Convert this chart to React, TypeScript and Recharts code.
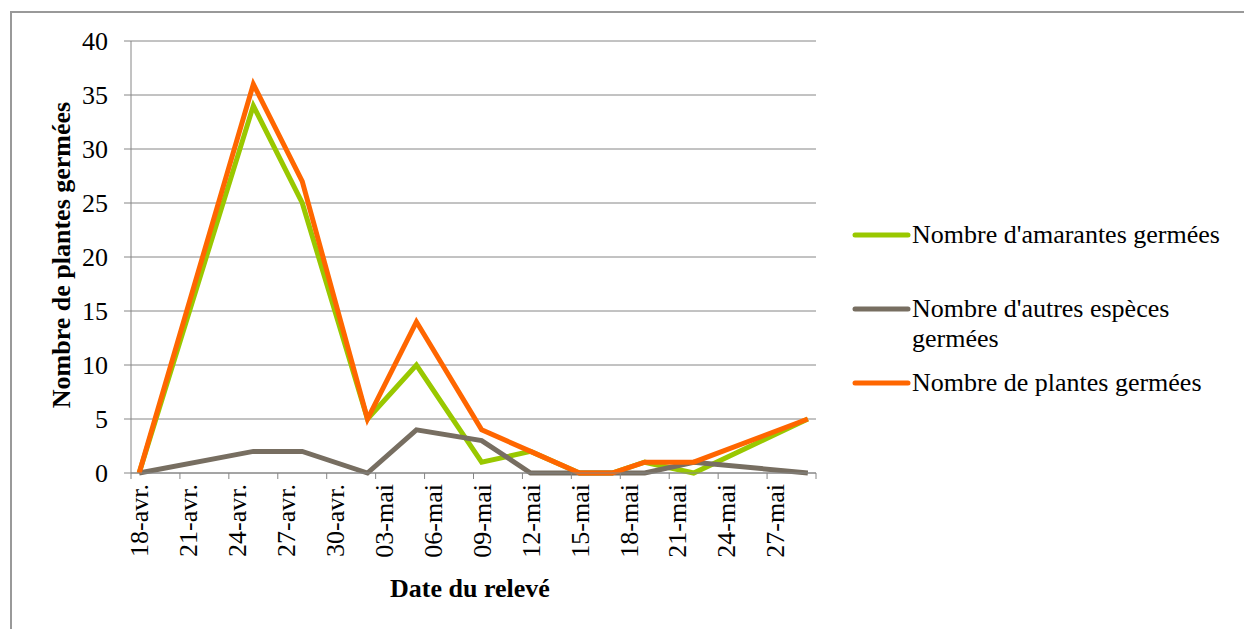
import React from 'react';
import { LineChart, Line, XAxis, YAxis, CartesianGrid, Legend } from 'recharts';

// Relevés (jours comptés depuis le 18 avril)
const releveDates = ['18-avr.', '25-avr.', '28-avr.', '02-mai', '05-mai', '09-mai', '12-mai', '15-mai', '17-mai', '19-mai', '22-mai', '29-mai'];
const releveDays = [0, 7, 10, 14, 17, 21, 24, 27, 29, 31, 34, 41];
const amarantes = [0, 34, 25, 5, 10, 1, 2, 0, 0, 1, 0, 5];
const autres = [0, 2, 2, 0, 4, 3, 0, 0, 0, 0, 1, 0];
const plantes = [0, 36, 27, 5, 14, 4, 2, 0, 0, 1, 1, 5];

// Axe des dates : une étiquette tous les 3 jours
const tickLabels = ['18-avr.', '21-avr.', '24-avr.', '27-avr.', '30-avr.', '03-mai', '06-mai', '09-mai', '12-mai', '15-mai', '18-mai', '21-mai', '24-mai', '27-mai'];
const tickDays = [0, 3, 6, 9, 12, 15, 18, 21, 24, 27, 30, 33, 36, 39];
const yTicks = [0, 5, 10, 15, 20, 25, 30, 35, 40];

const data = releveDays.map((day, i) => ({
    day,
    date: releveDates[i],
    amarantes: amarantes[i],
    autres: autres[i],
    plantes: plantes[i],
}));

const W = 1244;
const H = 629;
const LEGEND_W = 390;
// the vertical legend on the right takes its width out of the plot, so the right margin is reduced by it
const MARGIN = { top: 41, right: 428 - LEGEND_W, left: 71, bottom: 56 };
const Y_AXIS_W = 60;
const X_AXIS_H = 100;
const DOMAIN: [number, number] = [-0.5, 41.5];
const PLOT_W = 816 - 131;
const DAY_W = PLOT_W / (DOMAIN[1] - DOMAIN[0]);

// tick marks sit on the day boundaries, labels on the day centres
const tickLines = [...tickDays.map((d) => d - 0.5), DOMAIN[1]];

const FONT = '"Liberation Serif", "Times New Roman", serif';
const GRID = '#868686';

const SERIES = [
    { key: 'amarantes', name: "Nombre d'amarantes germées", color: '#99C800' },
    { key: 'autres', name: "Nombre d'autres espèces germées", color: '#776E61' },
    { key: 'plantes', name: 'Nombre de plantes germées', color: '#FF6600' },
];

const DateTick = (props: any) => {
    const { x, y, payload } = props;
    const idx = tickDays.indexOf(payload.value + 0.5);
    if (idx < 0) return null;
    const cx = x + DAY_W / 2;
    return (
        <text
            x={cx}
            y={y}
            dy="0.35em"
            textAnchor="end"
            transform={`rotate(-90, ${cx}, ${y})`}
            fill="#000"
            fontSize={26}
            fontFamily={FONT}
        >
            {tickLabels[idx]}
        </text>
    );
};

const YTick = (props: any) => {
    const { x, y, payload } = props;
    return (
        <text x={x} y={y} dy="0.35em" textAnchor="end" fill="#000" fontSize={26} fontFamily={FONT}>
            {payload.value}
        </text>
    );
};

const legendGaps = [44, 14, 0];

const renderLegend = () => (
    <div style={{ fontFamily: FONT, fontSize: 26, lineHeight: '30px', color: '#000' }}>
        {SERIES.map((s, i) => (
            <div key={s.key} style={{ display: 'flex', alignItems: 'flex-start', marginBottom: legendGaps[i] }}>
                <svg width={62} height={30} style={{ flex: 'none' }}>
                    <line x1={5} y1={15} x2={58} y2={15} stroke={s.color} strokeWidth={5} strokeLinecap="round" />
                </svg>
                <span style={{ width: 320 }}>{s.name}</span>
            </div>
        ))}
    </div>
);

export default function App() {
    return (
        <div style={{ position: 'absolute', left: 0, top: 0, width: W, height: H, overflow: 'hidden', background: '#fff' }}>
            <div style={{ position: 'absolute', left: 10, top: 11, width: W, height: H, border: '2px solid #999', boxSizing: 'border-box' }} />
            <div style={{ position: 'absolute', left: 0, top: 0 }}>
                <LineChart width={W} height={H} data={data} margin={MARGIN}>
                    <CartesianGrid vertical={false} stroke={GRID} strokeWidth={1} />
                    <XAxis
                        dataKey="day"
                        type="number"
                        domain={DOMAIN}
                        ticks={tickLines}
                        interval={0}
                        allowDataOverflow
                        height={X_AXIS_H}
                        stroke={GRID}
                        tickSize={6}
                        tickMargin={5}
                        tick={<DateTick />}
                    />
                    <YAxis
                        domain={[0, 40]}
                        ticks={yTicks}
                        interval={0}
                        width={Y_AXIS_W}
                        stroke={GRID}
                        tickSize={7}
                        tickMargin={16}
                        tick={<YTick />}
                    />
                    <Legend
                        content={renderLegend}
                        layout="vertical"
                        align="right"
                        verticalAlign="top"
                        wrapperStyle={{ left: 850, top: 220, width: LEGEND_W }}
                    />
                    {SERIES.map((s) => (
                        <Line
                            key={s.key}
                            type="linear"
                            dataKey={s.key}
                            name={s.name}
                            stroke={s.color}
                            strokeWidth={5}
                            dot={false}
                            activeDot={false}
                            isAnimationActive={false}
                        />
                    ))}
                </LineChart>
            </div>
            <div
                style={{
                    position: 'absolute',
                    left: 62,
                    top: 255,
                    transform: 'translate(-50%, -50%) rotate(-90deg)',
                    whiteSpace: 'nowrap',
                    fontFamily: FONT,
                    fontSize: 26,
                    fontWeight: 'bold',
                    lineHeight: '30px',
                }}
            >
                Nombre de plantes germées
            </div>
            <div
                style={{
                    position: 'absolute',
                    left: 470,
                    top: 589,
                    transform: 'translate(-50%, -50%)',
                    whiteSpace: 'nowrap',
                    fontFamily: FONT,
                    fontSize: 26,
                    fontWeight: 'bold',
                    lineHeight: '30px',
                }}
            >
                Date du relevé
            </div>
        </div>
    );
}
